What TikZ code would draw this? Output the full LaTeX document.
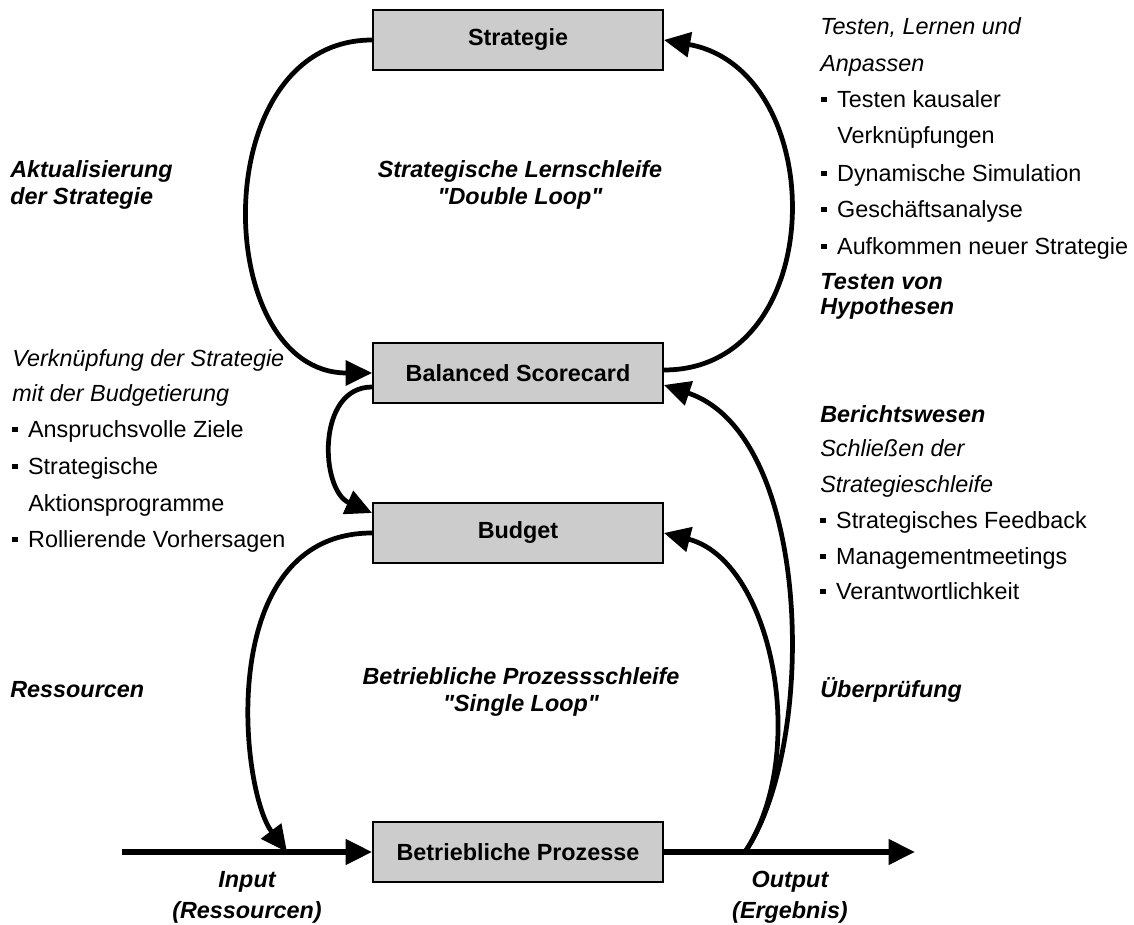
\documentclass[tikz,border=0pt]{standalone}
\usepackage{fontspec}
\setmainfont{Liberation Sans}
\usetikzlibrary{arrows.meta}

\definecolor{boxgray}{RGB}{204,204,204}
% square bullet followed by the item text
\newcommand{\sqbullet}[1]{\makebox[9pt][l]{\rule[3.4pt]{3.1pt}{3.1pt}}#1}
\newcommand{\fs}{\fontsize{13.3}{16}\selectfont}

\begin{document}
\begin{tikzpicture}[x=0.02cm,y=-0.02cm,
  stagebox/.style={draw=black, line width=1.1pt, fill=boxgray,
    minimum width=5.8cm, minimum height=1.2cm, inner sep=0pt,
    font=\fs\bfseries},
  loop/.style={line width=2.7pt, -{Triangle[length=15pt,width=14pt]}},
  mainline/.style={line width=3pt, -{Triangle[length=15pt,width=14pt]}},
  plain/.style={anchor=base west, inner sep=0pt, font=\fs},
  note/.style={plain, font=\fs\itshape},
  head/.style={plain, font=\fs\bfseries\itshape},
  title/.style={anchor=base, inner sep=0pt, font=\fs\bfseries\itshape}
]
\useasboundingbox (0,0) rectangle (1134,925);

% stages
\node[stagebox] (strat) at (518,40)  {Strategie};
\node[stagebox] (bsc)   at (518,373) {Balanced Scorecard};
\node[stagebox] (bud)   at (518,533) {Budget};
\node[stagebox] (proc)  at (518,852) {Betriebliche Prozesse};

% input / output line
\coordinate (in)  at (122,852);
\coordinate (res) at (287,852);
\coordinate (fb)  at (745,852);
\coordinate (out) at (915,852);
\draw[mainline] (in) -- (proc.west);
\draw[mainline] (proc.east) -- (out);

% double loop
\draw[loop] (strat.west) .. controls +(-168,0) and +(-161,0) .. (bsc.west);
\draw[loop] ([yshift=0.06cm]bsc.east) .. controls +(167,0) and +(167,30) .. (strat.east);

% linking scorecard and budget
\draw[loop] ([yshift=-0.28cm]bsc.west) .. controls +(-56,0) and +(-52,-23) .. ([yshift=0.4cm]bud.west);

% single loop
\draw[loop] (bud.west) .. controls +(-158,0) and +(-47,-62) .. (res);
\draw[loop] (fb) .. controls +(72,-105) and +(150,50) .. ([yshift=-0.24cm]bsc.east);
\draw[loop] (fb) .. controls +(66,-100) and +(107,27) .. (bud.east);

% left column
\node[head] (l1) at (10,178) {Aktualisierung};
\node[head] (l2) at (10,205) {der Strategie};
\node[note] (l3) at (12,367) {Verknüpfung der Strategie};
\node[note] (l4) at (12,402) {mit der Budgetierung};
\node[plain] (l5) at (12,438) {\sqbullet{Anspruchsvolle Ziele}};
\node[plain] (l6) at (12,475) {\sqbullet{Strategische}};
\node[plain] (l7) at (28,512) {Aktionsprogramme};
\node[plain] (l8) at (12,548) {\sqbullet{Rollierende Vorhersagen}};
\node[head] (l9) at (10,698) {Ressourcen};

% loop titles
\node[title] (c1) at (520,178) {Strategische Lernschleife};
\node[title] (c2) at (520,205) {\textquotedbl Double Loop\textquotedbl};
\node[title] (c3) at (521,685) {Betriebliche Prozessschleife};
\node[title] (c4) at (521,712) {\textquotedbl Single Loop\textquotedbl};

% right column
\node[note] (r1) at (820,35) {Testen, Lernen und};
\node[note] (r2) at (820,72) {Anpassen};
\node[plain] (r3) at (821,108) {\sqbullet{Testen kausaler}};
\node[plain] (r4) at (837,144) {Verknüpfungen};
\node[plain] (r5) at (821,182) {\sqbullet{Dynamische Simulation}};
\node[plain] (r6) at (821,218) {\sqbullet{Geschäftsanalyse}};
\node[plain] (r7) at (821,255) {\sqbullet{Aufkommen neuer Strategie}};
\node[head] (r8) at (820,290) {Testen von};
\node[head] (r9) at (820,315) {Hypothesen};

\node[head] (r10) at (820,423) {Berichtswesen};
\node[note] (r11) at (820,457) {Schließen der};
\node[note] (r12) at (820,493) {Strategieschleife};
\node[plain] (r13) at (820,529) {\sqbullet{Strategisches Feedback}};
\node[plain] (r14) at (820,565) {\sqbullet{Managementmeetings}};
\node[plain] (r15) at (820,600) {\sqbullet{Verantwortlichkeit}};
\node[head] (r16) at (820,698) {Überprüfung};

% input / output captions
\node[title] (b1) at (247,888) {Input};
\node[title] (b2) at (247,919) {(Ressourcen)};
\node[title] (b3) at (790,888) {Output};
\node[title] (b4) at (790,919) {(Ergebnis)};
\end{tikzpicture}
\end{document}
